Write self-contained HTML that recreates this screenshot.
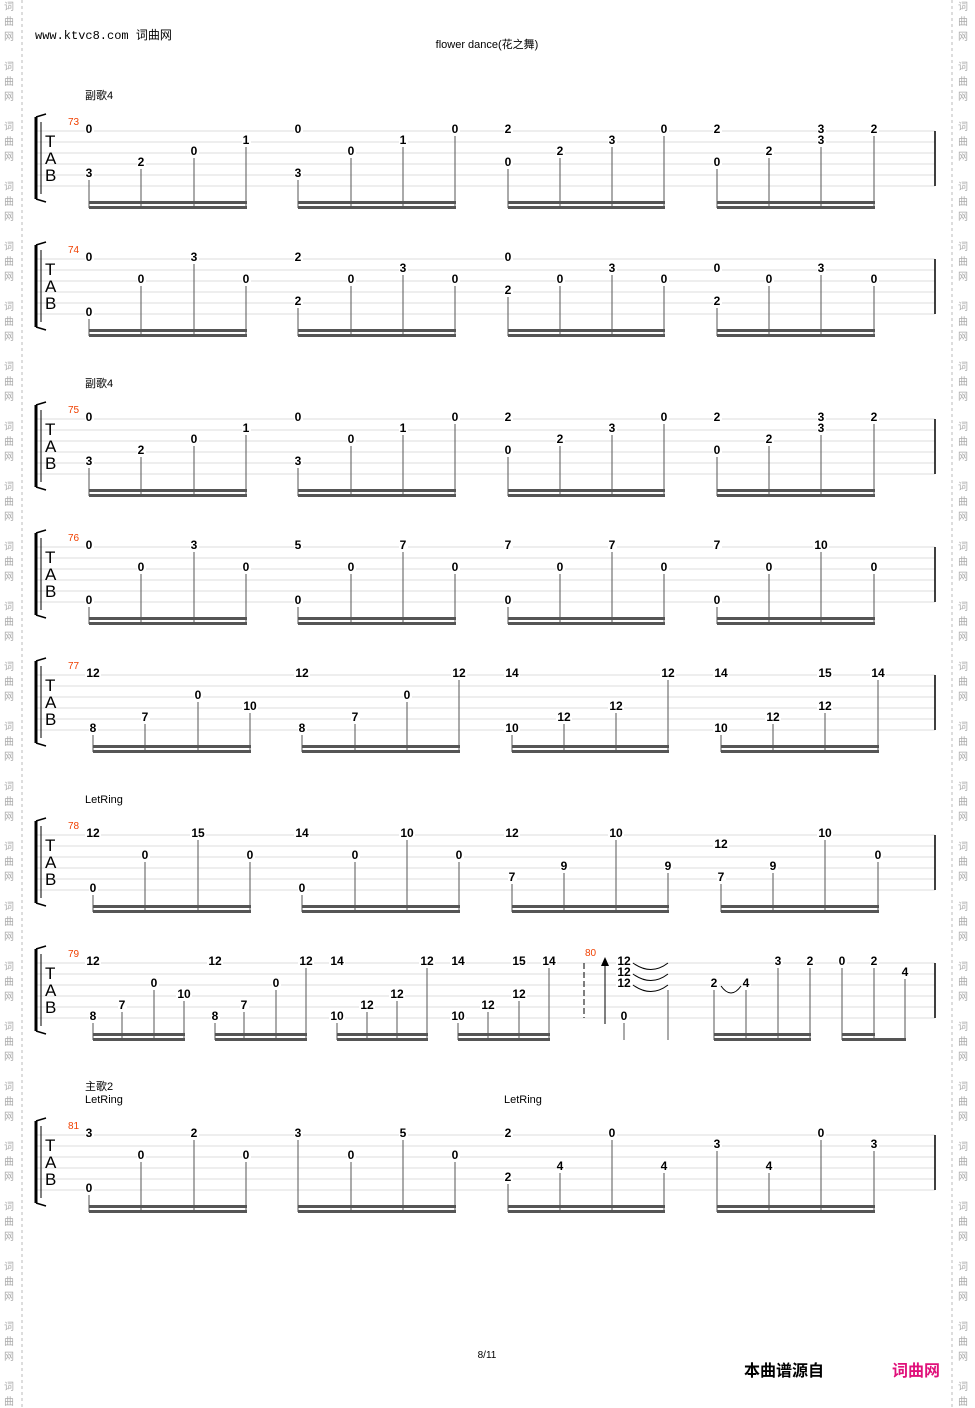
<!DOCTYPE html>
<html><head><meta charset="utf-8"><style>
body{margin:0;background:#fff}
svg{display:block}
text{font-family:"Liberation Sans","Noto Sans CJK SC",sans-serif}
.n{font-size:12px;font-weight:bold;fill:#000}
</style></head><body>
<svg id="s" width="975" height="1408" xmlns="http://www.w3.org/2000/svg">
<text x="35" y="39" font-size="12" style="font-family:'Liberation Mono','Noto Sans CJK SC',monospace">www.ktvc8.com 词曲网</text>
<text x="487" y="48" font-size="11" text-anchor="middle">flower dance(花之舞)</text>
<text x="487" y="1358" font-size="10" text-anchor="middle">8/11</text>
<text x="744" y="1376" font-size="16" font-weight="bold">本曲谱源自</text>
<text x="892" y="1376" font-size="16" font-weight="bold" fill="#e0107a">词曲网</text>
<text x="85" y="99" font-size="11">副歌4</text>
<text x="85" y="387" font-size="11">副歌4</text>
<text x="85" y="803" font-size="11">LetRing</text>
<text x="85" y="1090" font-size="11">主歌2</text>
<text x="85" y="1103" font-size="11">LetRing</text>
<text x="504" y="1103" font-size="11">LetRing</text>
</svg>
<script>
const S=document.getElementById('s');let h='';
h+='<line x1="22" y1="0" x2="22" y2="1408" stroke="#bbb" stroke-dasharray="3,3"/><line x1="952" y1="0" x2="952" y2="1408" stroke="#bbb" stroke-dasharray="3,3"/>';
for(let y=0;y<1408;y+=60){['词','曲','网'].forEach((c,i)=>{h+=`<text x="4" y="${y+10+i*15}" font-size="10" fill="#aaa">${c}</text><text x="958" y="${y+10+i*15}" font-size="10" fill="#aaa">${c}</text>`;});}
function staff(y0,num,end=935){
 for(let i=0;i<6;i++)h+=`<line x1="36" y1="${y0+i*11}" x2="${end}" y2="${y0+i*11}" stroke="#ddd"/>`;
 h+=`<path d="M36 ${y0-14}V${y0+68}" stroke="#000" stroke-width="3"/><path d="M36 ${y0-14}L46 ${y0-17}M36 ${y0+68}L46 ${y0+71}" stroke="#000" stroke-width="1.5"/>`;
 h+=`<line x1="41" y1="${y0-9}" x2="41" y2="${y0+63}" stroke="#000"/>`;
 h+=`<text x="45" y="${y0+16}" font-size="17">T</text><text x="45" y="${y0+33}" font-size="17">A</text><text x="45" y="${y0+50}" font-size="17">B</text>`;
 h+=`<text x="68" y="${y0-6}" font-size="10" fill="#f04000">${num}</text>`;
 h+=`<line x1="${end}" y1="${y0}" x2="${end}" y2="${y0+55}" stroke="#000" stroke-width="1.5"/>`;
}
function note(x,y0,s,f){const y=y0+(s-1)*11;h+=`<rect x="${x-(f.length>1?8:4)}" y="${y-7}" width="${f.length>1?16:9}" height="12" fill="#fff"/><text class="n" x="${x}" y="${y+2}" text-anchor="middle">${f}</text>`;}
function group(y0,g){
 const by=y0+73;
 g.forEach(([x,ns])=>{const ms=Math.max(...ns.map(n=>n[0]));h+=`<line x1="${x}" y1="${y0+(ms-1)*11+5}" x2="${x}" y2="${by+4}" stroke="#555"/>`;});
 const x1=g[0][0],x2=g[g.length-1][0];
 h+=`<rect x="${x1}" y="${by-3}" width="${x2-x1+1}" height="3" fill="#555"/><rect x="${x1}" y="${by+2}" width="${x2-x1+1}" height="3" fill="#555"/>`;
 g.forEach(([x,ns])=>ns.forEach(([s,f])=>note(x,y0,s,f)));
}
function sys(y0,num,xs,data){
 staff(y0,num);
 for(let m=0;m<4;m++){group(y0,data[m].map((ns,i)=>[xs[m*4+i],ns]));}
}
const XA=[89,141,194,246,298,351,403,455,508,560,612,664,717,769,821,874];
const XB=XA.map(x=>x+4);
const m73=[[[[1,'0'],[5,'3']],[[4,'2']],[[3,'0']],[[2,'1']]],[[[1,'0'],[5,'3']],[[3,'0']],[[2,'1']],[[1,'0']]],[[[1,'2'],[4,'0']],[[3,'2']],[[2,'3']],[[1,'0']]],[[[1,'2'],[4,'0']],[[3,'2']],[[1,'3'],[2,'3']],[[1,'2']]]];
sys(131,73,XA,m73);
sys(259,74,XA,[[[[1,'0'],[6,'0']],[[3,'0']],[[1,'3']],[[3,'0']]],[[[1,'2'],[5,'2']],[[3,'0']],[[2,'3']],[[3,'0']]],[[[1,'0'],[4,'2']],[[3,'0']],[[2,'3']],[[3,'0']]],[[[2,'0'],[5,'2']],[[3,'0']],[[2,'3']],[[3,'0']]]]);
sys(419,75,XA,m73);
sys(547,76,XA,[[[[1,'0'],[6,'0']],[[3,'0']],[[1,'3']],[[3,'0']]],[[[1,'5'],[6,'0']],[[3,'0']],[[1,'7']],[[3,'0']]],[[[1,'7'],[6,'0']],[[3,'0']],[[1,'7']],[[3,'0']]],[[[1,'7'],[6,'0']],[[3,'0']],[[1,'10']],[[3,'0']]]]);
sys(675,77,XB,[[[[1,'12'],[6,'8']],[[5,'7']],[[3,'0']],[[4,'10']]],[[[1,'12'],[6,'8']],[[5,'7']],[[3,'0']],[[1,'12']]],[[[1,'14'],[6,'10']],[[5,'12']],[[4,'12']],[[1,'12']]],[[[1,'14'],[6,'10']],[[5,'12']],[[1,'15'],[4,'12']],[[1,'14']]]]);
sys(835,78,XB,[[[[1,'12'],[6,'0']],[[3,'0']],[[1,'15']],[[3,'0']]],[[[1,'14'],[6,'0']],[[3,'0']],[[1,'10']],[[3,'0']]],[[[1,'12'],[5,'7']],[[4,'9']],[[1,'10']],[[4,'9']]],[[[2,'12'],[5,'7']],[[4,'9']],[[1,'10']],[[3,'0']]]]);
sys(1135,81,XA,[[[[1,'3'],[6,'0']],[[3,'0']],[[1,'2']],[[3,'0']]],[[[1,'3']],[[3,'0']],[[1,'5']],[[3,'0']]],[[[1,'2'],[5,'2']],[[4,'4']],[[1,'0']],[[4,'4']]],[[[2,'3']],[[4,'4']],[[1,'0']],[[2,'3']]]]);
const y9=963;staff(y9,79);
const X9=[93,122,154,184,215,244,276,306,337,367,397,427,458,488,519,549];
const d9=[[[[1,'12'],[6,'8']],[[5,'7']],[[3,'0']],[[4,'10']]],[[[1,'12'],[6,'8']],[[5,'7']],[[3,'0']],[[1,'12']]],[[[1,'14'],[6,'10']],[[5,'12']],[[4,'12']],[[1,'12']]],[[[1,'14'],[6,'10']],[[5,'12']],[[1,'15'],[4,'12']],[[1,'14']]]];
for(let m=0;m<4;m++)group(y9,d9[m].map((ns,i)=>[X9[m*4+i],ns]));
h+=`<line x1="584" y1="${y9}" x2="584" y2="${y9+55}" stroke="#000" stroke-dasharray="6,3"/>`;
h+=`<text x="585" y="${y9-7}" font-size="10" fill="#f04000">80</text>`;
h+=`<line x1="605" y1="${y9-2}" x2="605" y2="${y9+61}" stroke="#000"/><path d="M601 ${y9+3}L605 ${y9-6}L609 ${y9+3}Z" fill="#000"/>`;
[0,1,2].forEach(i=>{const y=y9+i*11;h+=`<path d="M633 ${y}Q651 ${y+13} 668 ${y}" fill="none" stroke="#000"/>`;});
h+=`<path d="M721 ${y9+23}Q731 ${y9+37} 741 ${y9+23}" fill="none" stroke="#000"/>`;
h+=`<line x1="668" y1="${y9+27}" x2="668" y2="${y9+77}" stroke="#555"/><line x1="624" y1="${y9+60}" x2="624" y2="${y9+77}" stroke="#aaa" stroke-width="2"/>`;
note(624,y9,1,'12');note(624,y9,2,'12');note(624,y9,3,'12');note(624,y9,6,'0');
group(y9,[[714,[[3,'2']]],[746,[[3,'4']]],[778,[[1,'3']]],[810,[[1,'2']]]]);
h+=`<line x1="842" y1="${y9+5}" x2="842" y2="${y9+77}" stroke="#555"/><line x1="874" y1="${y9+5}" x2="874" y2="${y9+77}" stroke="#555"/><line x1="905" y1="${y9+16}" x2="905" y2="${y9+77}" stroke="#555"/>`;
h+=`<rect x="842" y="${y9+70}" width="33" height="3" fill="#555"/><rect x="842" y="${y9+75}" width="64" height="3" fill="#555"/>`;
note(842,y9,1,'0');note(874,y9,1,'2');note(905,y9,2,'4');
S.insertAdjacentHTML('beforeend',h);
</script>
</body></html>
